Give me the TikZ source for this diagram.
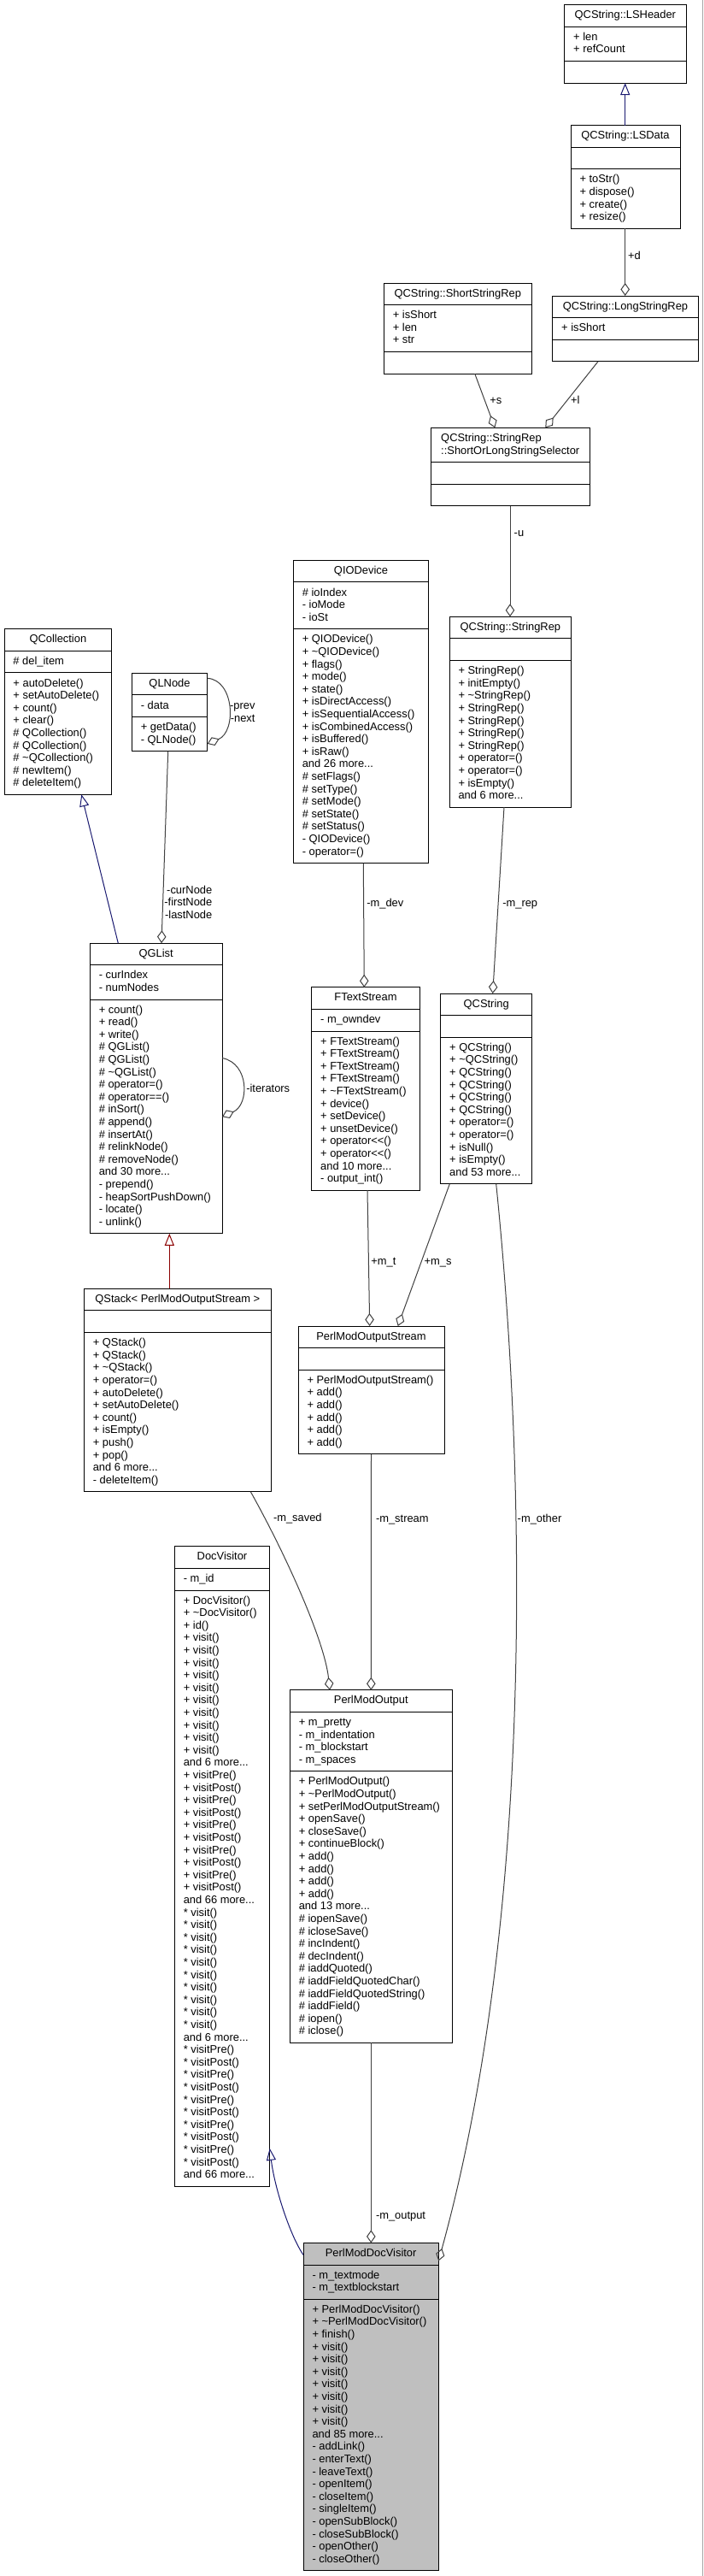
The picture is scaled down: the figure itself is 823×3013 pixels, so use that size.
\documentclass[tikz,border=0pt]{standalone}
\usepackage{fontspec}
\newfontfamily\dfont{Liberation Sans}
\usetikzlibrary{arrows.meta,calc}
\definecolor{edgegray}{HTML}{404040}
\definecolor{inhblue}{HTML}{191970}
\definecolor{privred}{HTML}{8B0000}
\definecolor{pmdvgray}{HTML}{BFBFBF}
\newcommand\mlines[1]{\vtop{\baselineskip=14.6pt\lineskiplimit=-100pt\lineskip=0pt\let\\\cr\halign{##\hfil\cr#1\crcr}}}
\newcommand\rlines[1]{\vtop{\baselineskip=14.6pt\lineskiplimit=-100pt\lineskip=0pt\let\\\cr\halign{\hfil##\cr#1\crcr}}}
% #1 style, #2 name, #3 x, #4 y, #5 w, #6 title lines, #7 attr lines, #8 method lines, #9 title
\newcommand\umlbox[9][box]{%
  \pgfmathsetmacro\hA{#6*14.6+11}%
  \pgfmathsetmacro\hB{max(#7,1)*14.6+11}%
  \pgfmathsetmacro\hC{max(#8,1)*14.6+11}%
  \pgfmathsetmacro\hT{\hA+\hB+\hC}%
  \pgfmathsetmacro\hAB{\hA+\hB}%
  \pgfmathsetmacro\yA{\hA+16.1}%
  \pgfmathsetmacro\yB{\hA+\hB+16.1}%
  \node[#1, minimum width=#5pt, minimum height=\hT pt, anchor=north west] (#2) at (#3,#4) {};
  \draw[sepline] ($(#2.north west)+(0,\hA)$) -- ++(#5,0);
  \draw[sepline] ($(#2.north west)+(0,\hAB)$) -- ++(#5,0);
  \node[txt, anchor=base] (#2-t) at ($(#2.north)+(0,16.1)$) {\mlines{#9}};
}
\newcommand\umlattr[2]{\node[txt, anchor=base west] (#1-a) at ($(#1.north west)+(10.5,\yA)$) {\mlines{#2}};}
\newcommand\umlmeth[2]{\node[txt, anchor=base west] (#1-m) at ($(#1.north west)+(10.5,\yB)$) {\mlines{#2}};}
\begin{document}
\begin{tikzpicture}[x=1pt, y=-1pt,
  box/.style={rectangle, draw=black, line width=1pt, fill=white, inner sep=0pt, outer sep=0pt},
  pmdvbox/.style={box, fill=pmdvgray},
  sepline/.style={draw=black, line width=1pt},
  txt/.style={inner sep=0pt, outer sep=0pt, font={\dfont\fontsize{12.9}{14.6}\selectfont}},
  lbl/.style={txt},
  agg/.style={draw=edgegray, line width=1pt, -{Diamond[open, length=15pt, width=10.5pt]}},
  inh/.style={draw=inhblue, line width=1pt, -{Triangle[open, length=14pt, width=11pt]}},
  priv/.style={draw=privred, line width=1pt, -{Triangle[open, length=14pt, width=11pt]}}]
\fill[white] (0,0) rectangle (823,3013);
\useasboundingbox (0,0) rectangle (823,3013);
\draw[black!35, line width=1pt] (822,0) -- (822,3013);

% ---------- classes ----------
\umlbox{lsheader}{660.7}{5.7}{142.3}{1}{2}{0}{QCString::LSHeader}
\umlattr{lsheader}{+ len\\+ refCount}

\umlbox{lsdata}{668}{146.7}{128}{1}{0}{4}{QCString::LSData}
\umlmeth{lsdata}{+ toStr()\\+ dispose()\\+ create()\\+ resize()}

\umlbox{ssrep}{449.3}{331}{173}{1}{3}{0}{QCString::ShortStringRep}
\umlattr{ssrep}{+ isShort\\+ len\\+ str}

\umlbox{lsrep}{646.7}{346}{170.6}{1}{1}{0}{QCString::LongStringRep}
\umlattr{lsrep}{+ isShort}

\umlbox{selector}{504.5}{500.3}{185.5}{2}{0}{0}{QCString::StringRep\\::ShortOrLongStringSelector}

\umlbox{strrep}{526}{721.3}{142.7}{1}{0}{11}{QCString::StringRep}
\umlmeth{strrep}{+ StringRep()\\+ initEmpty()\\+ \textasciitilde StringRep()\\+ StringRep()\\+ StringRep()\\+ StringRep()\\+ StringRep()\\+ operator=()\\+ operator=()\\+ isEmpty()\\and 6 more...}

\umlbox{qio}{343.3}{655.3}{158.4}{1}{3}{18}{QIODevice}
\umlattr{qio}{\# ioIndex\\- ioMode\\- ioSt}
\umlmeth{qio}{+ QIODevice()\\+ \textasciitilde QIODevice()\\+ flags()\\+ mode()\\+ state()\\+ isDirectAccess()\\+ isSequentialAccess()\\+ isCombinedAccess()\\+ isBuffered()\\+ isRaw()\\and 26 more...\\\# setFlags()\\\# setType()\\\# setMode()\\\# setState()\\\# setStatus()\\- QIODevice()\\- operator=()}

\umlbox{qcoll}{5}{735.7}{125.7}{1}{1}{9}{QCollection}
\umlattr{qcoll}{\# del\_item}
\umlmeth{qcoll}{+ autoDelete()\\+ setAutoDelete()\\+ count()\\+ clear()\\\# QCollection()\\\# QCollection()\\\# \textasciitilde QCollection()\\\# newItem()\\\# deleteItem()}

\umlbox{qlnode}{154.3}{787.3}{88.4}{1}{1}{2}{QLNode}
\umlattr{qlnode}{- data}
\umlmeth{qlnode}{+ getData()\\- QLNode()}

\umlbox{qglist}{105.3}{1103.2}{154.7}{1}{2}{18}{QGList}
\umlattr{qglist}{- curIndex\\- numNodes}
\umlmeth{qglist}{+ count()\\+ read()\\+ write()\\\# QGList()\\\# QGList()\\\# \textasciitilde QGList()\\\# operator=()\\\# operator==()\\\# inSort()\\\# append()\\\# insertAt()\\\# relinkNode()\\\# removeNode()\\and 30 more...\\- prepend()\\- heapSortPushDown()\\- locate()\\- unlink()}

\umlbox{fts}{364.7}{1154.8}{126.6}{1}{1}{12}{FTextStream}
\umlattr{fts}{- m\_owndev}
\umlmeth{fts}{+ FTextStream()\\+ FTextStream()\\+ FTextStream()\\+ FTextStream()\\+ \textasciitilde FTextStream()\\+ device()\\+ setDevice()\\+ unsetDevice()\\+ operator<<()\\+ operator<<()\\and 10 more...\\- output\_int()}

\umlbox{qcstring}{515.7}{1162}{107}{1}{0}{11}{QCString}
\umlmeth{qcstring}{+ QCString()\\+ \textasciitilde QCString()\\+ QCString()\\+ QCString()\\+ QCString()\\+ QCString()\\+ operator=()\\+ operator=()\\+ isNull()\\+ isEmpty()\\and 53 more...}

\umlbox{qstack}{98.3}{1507.3}{219}{1}{0}{12}{QStack< PerlModOutputStream >}
\umlmeth{qstack}{+ QStack()\\+ QStack()\\+ \textasciitilde QStack()\\+ operator=()\\+ autoDelete()\\+ setAutoDelete()\\+ count()\\+ isEmpty()\\+ push()\\+ pop()\\and 6 more...\\- deleteItem()}

\umlbox{pmos}{349}{1551}{171}{1}{0}{6}{PerlModOutputStream}
\umlmeth{pmos}{+ PerlModOutputStream()\\+ add()\\+ add()\\+ add()\\+ add()\\+ add()}

\umlbox{docv}{204.3}{1808.8}{111.4}{1}{1}{47}{DocVisitor}
\umlattr{docv}{- m\_id}
\umlmeth{docv}{+ DocVisitor()\\+ \textasciitilde DocVisitor()\\+ id()\\+ visit()\\+ visit()\\+ visit()\\+ visit()\\+ visit()\\+ visit()\\+ visit()\\+ visit()\\+ visit()\\+ visit()\\and 6 more...\\+ visitPre()\\+ visitPost()\\+ visitPre()\\+ visitPost()\\+ visitPre()\\+ visitPost()\\+ visitPre()\\+ visitPost()\\+ visitPre()\\+ visitPost()\\and 66 more...\\* visit()\\* visit()\\* visit()\\* visit()\\* visit()\\* visit()\\* visit()\\* visit()\\* visit()\\* visit()\\and 6 more...\\* visitPre()\\* visitPost()\\* visitPre()\\* visitPost()\\* visitPre()\\* visitPost()\\* visitPre()\\* visitPost()\\* visitPre()\\* visitPost()\\and 66 more...}

\umlbox{pmo}{339.3}{1976.8}{190}{1}{4}{21}{PerlModOutput}
\umlattr{pmo}{+ m\_pretty\\- m\_indentation\\- m\_blockstart\\- m\_spaces}
\umlmeth{pmo}{+ PerlModOutput()\\+ \textasciitilde PerlModOutput()\\+ setPerlModOutputStream()\\+ openSave()\\+ closeSave()\\+ continueBlock()\\+ add()\\+ add()\\+ add()\\+ add()\\and 13 more...\\\# iopenSave()\\\# icloseSave()\\\# incIndent()\\\# decIndent()\\\# iaddQuoted()\\\# iaddFieldQuotedChar()\\\# iaddFieldQuotedString()\\\# iaddField()\\\# iopen()\\\# iclose()}

\umlbox[pmdvbox]{pmdv}{355}{2623.4}{158.3}{1}{2}{21}{PerlModDocVisitor}
\umlattr{pmdv}{- m\_textmode\\- m\_textblockstart}
\umlmeth{pmdv}{+ PerlModDocVisitor()\\+ \textasciitilde PerlModDocVisitor()\\+ finish()\\+ visit()\\+ visit()\\+ visit()\\+ visit()\\+ visit()\\+ visit()\\+ visit()\\and 85 more...\\- addLink()\\- enterText()\\- leaveText()\\- openItem()\\- closeItem()\\- singleItem()\\- openSubBlock()\\- closeSubBlock()\\- openOther()\\- closeOther()}

% ---------- connectors ----------
\draw[inh] ($(lsdata.north west)+(63.7,0)$) -- ($(lsheader.south west)+(71,0)$);
\draw[agg] ($(lsdata.south west)+(63.7,0)$) -- ($(lsrep.north west)+(85,0)$);
\draw[agg] ($(ssrep.south west)+(106.4,0)$) -- ($(selector.north west)+(74.8,0)$);
\draw[agg] ($(lsrep.south west)+(53.3,0)$) -- ($(selector.north west)+(133.8,0)$);
\draw[agg] ($(selector.south west)+(92.5,0)$) -- ($(strrep.north west)+(71,0)$);
\draw[agg] ($(strrep.south west)+(64,0)$) -- ($(qcstring.north west)+(61,0)$);
\draw[agg] ($(qio.south west)+(82,0)$) -- ($(fts.north west)+(61.6,0)$);
\draw[agg] ($(qlnode.north east)+(0,6)$) .. controls +(32,2) and +(34,-14) .. ($(qlnode.south east)+(0,-8.7)$);
\draw[agg] ($(qlnode.south west)+(42.4,0)$) -- ($(qglist.north west)+(83.7,0)$);
\draw[inh] ($(qglist.north west)+(33,0)$) -- ($(qcoll.south west)+(90.3,0)$);
\draw[agg] ($(qglist.north east)+(0,134.3)$) .. controls +(32,6) and +(32,-14) .. ($(qglist.north east)+(0,203)$);
\draw[priv] ($(qstack.north west)+(100,0)$) -- ($(qglist.south west)+(93,0)$);
\draw[agg] ($(fts.south west)+(65.3,0)$) -- ($(pmos.north west)+(83.7,0)$);
\draw[agg] ($(qcstring.south west)+(10.6,0)$) -- ($(pmos.north west)+(116.7,0)$);
\draw[agg] ($(qstack.south west)+(195,0)$) .. controls +(42,75) and +(-6,-57) .. ($(pmo.north west)+(46.7,0)$);
\draw[agg] ($(pmos.south west)+(85.5,0)$) -- ($(pmo.north west)+(95,0)$);
\draw[agg] ($(qcstring.south west)+(65,0)$) .. controls (618,1750) and (622,2250) .. ($(pmdv.north east)+(0,21)$);
\draw[agg] ($(pmo.south west)+(95,0)$) -- ($(pmdv.north west)+(79.3,0)$);
\draw[inh] ($(pmdv.north west)+(0,14)$) .. controls +(-15,-22) and +(6,48) .. ($(docv.north east)+(0,704)$);

% ---------- labels ----------
\node[lbl, anchor=base west] (l-d) at (735,303.6) {+d};
\node[lbl, anchor=base west] (l-s) at (573.3,472.9) {+s};
\node[lbl, anchor=base west] (l-l) at (668,472.6) {+l};
\node[lbl, anchor=base west] (l-u) at (601.7,627.3) {-u};
\node[lbl, anchor=base west] (l-mdev) at (429.3,1060.3) {-m\_dev};
\node[lbl, anchor=base west] (l-mrep) at (588.3,1060.3) {-m\_rep};
\node[lbl, anchor=base east] (l-prev) at (298.5,829.6) {\rlines{-prev\\-next}};
\node[lbl, anchor=base east] (l-cur) at (248.3,1045.1) {\rlines{-curNode\\-firstNode\\-lastNode}};
\node[lbl, anchor=base west] (l-it) at (288.3,1277.2) {-iterators};
\node[lbl, anchor=base west] (l-mt) at (434.3,1479.6) {+m\_t};
\node[lbl, anchor=base west] (l-ms) at (496.7,1479.6) {+m\_s};
\node[lbl, anchor=base west] (l-msaved) at (320,1779.6) {-m\_saved};
\node[lbl, anchor=base west] (l-mstream) at (440,1780.1) {-m\_stream};
\node[lbl, anchor=base west] (l-mother) at (605.7,1780.1) {-m\_other};
\node[lbl, anchor=base west] (l-moutput) at (440,2595.2) {-m\_output};
\end{tikzpicture}
\end{document}
